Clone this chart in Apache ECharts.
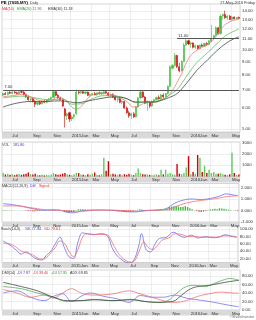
<!DOCTYPE html>
<html><head><meta charset="utf-8">
<script src="https://cdn.jsdelivr.net/npm/echarts@6/dist/echarts.min.js"></script>
<style>html,body{margin:0;padding:0;background:#fff}#c{width:256px;height:320px}</style>
</head><body><div id="c"></div>
<script>
const dates = ['2014-06-06','2014-06-13','2014-06-20','2014-06-27','2014-07-04','2014-07-11','2014-07-18','2014-07-25','2014-08-01','2014-08-08','2014-08-15','2014-08-22','2014-08-29','2014-09-05','2014-09-12','2014-09-19','2014-09-26','2014-10-03','2014-10-10','2014-10-17','2014-10-24','2014-10-31','2014-11-07','2014-11-14','2014-11-21','2014-11-28','2014-12-05','2014-12-12','2014-12-19','2014-12-26',
'2015-01-02','2015-01-09','2015-01-16','2015-01-23','2015-01-30','2015-02-06','2015-02-13','2015-02-20','2015-02-27','2015-03-06','2015-03-13','2015-03-20','2015-03-27','2015-04-03','2015-04-10','2015-04-17','2015-04-24','2015-05-01','2015-05-08','2015-05-15','2015-05-22','2015-05-29','2015-06-05','2015-06-12','2015-06-19','2015-06-26','2015-07-03','2015-07-10','2015-07-17','2015-07-24','2015-07-31','2015-08-07','2015-08-14','2015-08-21','2015-08-28','2015-09-04','2015-09-11','2015-09-18','2015-09-25','2015-10-02','2015-10-09','2015-10-16','2015-10-23','2015-10-30','2015-11-06','2015-11-13','2015-11-20','2015-11-27','2015-12-04','2015-12-11','2015-12-18','2015-12-25',
'2016-01-01','2016-01-08','2016-01-15','2016-01-22','2016-01-29','2016-02-05','2016-02-12','2016-02-19','2016-02-26','2016-03-04','2016-03-11','2016-03-18','2016-03-25','2016-04-01','2016-04-08','2016-04-15','2016-04-22','2016-04-29','2016-05-06','2016-05-13','2016-05-20','2016-05-27'];

const tickDates = ['2014-07-04','2014-09-05','2014-11-07','2015-01-02','2015-03-06','2015-05-01','2015-07-03','2015-09-04','2015-11-06','2016-01-01','2016-03-04','2016-05-06'];
const tickLabels = ['Jul','Sep','Nov','2015Jan','Mar','May','Jul','Sep','Nov','2016Jan','Mar','May'];

const opens  = [6.70,6.80,6.75,6.88,6.82,6.90,6.85,6.80,6.92,6.88, 6.74,6.60,6.45,6.50,6.35,6.20,6.30,6.22,6.35,6.30, 6.45,6.50,6.58,6.92,6.70,6.55,6.45,5.95,5.60,5.75, 5.45,5.55,5.70,6.90,6.85,6.92,6.82,6.90,6.70,6.75, 6.80,6.72,6.85,6.78,6.84,6.92,6.84,6.68,6.75,6.60, 6.45,6.50,6.30,6.35,6.00,5.75,5.60,5.70,5.55,6.05, 6.55,6.90,6.60,6.25,6.30,6.10,6.35,6.45,6.58,6.50, 6.72,6.62,6.80,7.25,8.50,8.70,9.50,8.60,8.30,9.00, 10.40,10.80,10.50,10.60,10.20,10.35,10.10,10.40,10.30,10.55, 10.45,10.75,11.05,11.30,12.10,11.50,13.40,13.60,13.20,13.40, 13.00,13.30,13.10,13.25];
const highs  = [6.85,6.90,6.92,6.95,6.95,6.98,6.92,6.95,7.00,6.95, 6.80,6.68,6.55,6.55,6.42,6.35,6.38,6.40,6.45,6.48, 6.55,6.62,7.02,6.95,6.78,6.62,6.50,6.00,5.75,5.80, 5.62,5.70,7.05,7.00,6.98,6.98,6.95,6.92,6.80,6.85, 6.90,6.88,6.92,6.90,6.98,6.95,6.90,6.80,6.82,6.70, 6.55,6.58,6.42,6.40,6.08,5.85,5.75,5.78,6.10,6.60, 7.00,6.95,6.65,6.40,6.35,6.40,6.50,6.62,6.70,6.78, 6.82,6.85,7.30,8.70,8.80,9.70,9.55,8.90,9.10,10.60, 11.00,10.90,10.70,10.65,10.45,10.40,10.45,10.55,10.60,10.70, 10.85,12.40,11.40,12.25,12.20,13.60,13.70,14.05,13.50,13.55, 13.45,13.35,13.30,13.35];
const lows   = [6.65,6.72,6.70,6.78,6.76,6.80,6.75,6.76,6.82,6.70, 6.55,6.40,6.30,6.30,6.05,6.12,6.15,6.18,6.25,6.25, 6.38,6.42,6.55,6.65,6.50,6.40,6.05,5.05,5.40,5.30, 5.35,5.45,5.65,6.75,6.78,6.78,6.76,6.65,6.60,6.68, 6.70,6.68,6.75,6.72,6.75,6.78,6.65,6.60,6.55,6.40, 6.30,6.25,6.20,5.95,5.70,5.50,5.45,5.50,5.52,6.00, 6.50,6.55,6.20,5.85,6.00,6.05,6.28,6.40,6.45,6.45, 6.55,6.58,6.75,7.20,8.40,8.60,8.50,8.20,8.25,8.95, 10.30,10.40,10.15,10.10,10.05,10.00,10.05,10.25,10.25,10.35, 10.40,10.65,10.90,11.20,11.40,11.40,13.00,13.10,13.00,12.95, 12.90,13.00,13.00,13.05];
const closes = [6.80,6.75,6.88,6.82,6.90,6.85,6.80,6.92,6.88,6.74, 6.60,6.45,6.50,6.35,6.20,6.30,6.22,6.35,6.30,6.45, 6.50,6.58,6.92,6.70,6.55,6.45,6.10,5.60,5.70,5.45, 5.55,5.65,6.90,6.85,6.92,6.82,6.90,6.70,6.75,6.80, 6.72,6.85,6.78,6.86,6.92,6.84,6.68,6.75,6.60,6.45, 6.50,6.30,6.35,6.00,5.75,5.60,5.70,5.55,6.05,6.55, 6.90,6.60,6.25,6.30,6.10,6.35,6.45,6.58,6.50,6.72, 6.62,6.80,7.25,8.60,8.70,9.50,8.60,8.30,9.00,10.40, 10.80,10.50,10.60,10.20,10.35,10.10,10.40,10.30,10.55,10.45, 10.80,11.05,11.30,12.10,11.50,13.40,13.60,13.20,13.40,13.00, 13.30,13.10,13.25,13.15];

const volumes = [300,180,250,150,200,120,180,220,150,200, 250,350,200,180,250,150,120,180,100,150, 120,180,300,200,150,180,250,300,200,150, 120,200,320,300,180,150,120,200,150,250, 350,150,120,200,1650,500,1350,200,250,180, 150,200,120,200,150,250,150,120,300,700, 300,200,180,200,150,120,150,200,120,600, 180,600,250,300,200,150,1100,250,200,300, 800,1800,200,400,250,1900,1650,400,950,300, 600,300,400,250,250,300,200,150,120,200, 2100,300,150,181.8];

// moving averages: [week index, price]
const ma10  = [[0,6.62],[4,6.68],[8,6.75],[12,6.62],[16,6.40],[20,6.35],[24,6.60],[27,6.45],[30,6.05],[32,5.92],[35,6.20],[38,6.65],[42,6.80],[46,6.78],[50,6.62],[54,6.35],[57,6.05],[60,6.15],[63,6.35],[66,6.30],[69,6.45],[72,6.65],[74,7.0],[76,7.5],[78,8.1],[80,8.9],[82,9.5],[84,9.85],[87,10.2],[90,10.55],[93,11.2],[96,12.2],[99,12.75],[103,13.05]];
const ema20 = [[0,6.55],[8,6.65],[14,6.55],[20,6.45],[26,6.48],[30,6.20],[34,6.22],[38,6.45],[44,6.68],[50,6.65],[55,6.45],[58,6.28],[62,6.32],[66,6.35],[70,6.48],[73,6.75],[76,7.05],[79,7.65],[82,8.35],[85,9.0],[88,9.5],[91,10.05],[94,10.65],[97,11.25],[100,11.65],[103,11.96]];
const ema30 = [[0,6.05],[4,6.2],[8,6.3],[12,6.35],[18,6.35],[24,6.38],[28,6.35],[32,6.28],[36,6.35],[42,6.5],[48,6.6],[53,6.55],[58,6.32],[62,6.32],[66,6.32],[70,6.45],[73,6.6],[76,6.8],[79,7.25],[82,7.8],[85,8.4],[88,8.9],[91,9.45],[94,10.0],[97,10.5],[100,10.9],[103,11.18]];

const macdHist = [0.05,0.04,0.03,0.02,0.02,0.01,0.0,0.01,0.01,-0.01, -0.03,-0.05,-0.05,-0.06,-0.07,-0.05,-0.04,-0.02,-0.01,0.01, 0.02,0.03,0.08,0.06,0.03,0.0,-0.03,-0.12,-0.14,-0.15, -0.12,-0.10,0.05,0.10,0.12,0.10,0.08,0.06,0.04,0.03, 0.02,0.02,0.01,0.01,0.01,0.0,-0.01,-0.01,-0.03,-0.05, -0.06,-0.07,-0.07,-0.09,-0.10,-0.10,-0.09,-0.07,-0.02,0.05, 0.10,0.08,0.05,0.04,0.03,0.04,0.05,0.06,0.06,0.07, 0.07,0.09,0.15,0.30,0.35,0.38,0.42,0.35,0.30,0.32, 0.38,0.30,0.20,0.10,0.02,-0.05,-0.08,-0.10,-0.08,-0.05, 0.02,0.10,0.12,0.15,0.12,0.20,0.18,0.15,0.12,0.08, 0.05,0.0,-0.02,-0.05];
const macdDiff   = [[0,0.6],[6,0.45],[12,0.2],[18,0.02],[24,0.05],[28,-0.15],[31,-0.2],[34,-0.05],[40,0.05],[48,0.02],[54,-0.1],[58,-0.12],[62,0.0],[68,0.05],[72,0.2],[75,0.6],[79,0.9],[83,1.0],[87,0.95],[91,1.05],[95,1.25],[98,1.45],[101,1.35],[103,1.3]];
const macdSignal = [[0,0.4],[6,0.4],[12,0.25],[18,0.08],[24,0.03],[28,-0.05],[32,-0.12],[36,-0.05],[42,0.03],[50,0.02],[56,-0.06],[60,-0.08],[64,0.0],[70,0.05],[74,0.2],[78,0.5],[82,0.72],[86,0.85],[90,0.95],[94,1.05],[98,1.2],[103,1.28]];

const stochK = [[0,68],[3,57],[6,42],[8,32],[10,38],[13,25],[15,18],[17,16],[19,28],[21,40],[23,60],[25,78],[27,50],[29,25],[31,20],[33,65],[35,90],[37,88],[40,85],[43,88],[46,82],[48,50],[50,30],[52,18],[54,10],[56,8],[58,20],[60,60],[61,88],[63,45],[65,38],[67,60],[69,75],[72,78],[75,92],[78,82],[80,78],[83,84],[86,76],[89,80],[92,77],[95,78],[98,85],[101,80],[103,77.94]];
const stochD = [[0,62],[3,60],[6,50],[8,40],[10,36],[13,30],[15,22],[17,18],[19,22],[21,35],[23,50],[25,68],[27,62],[29,40],[31,25],[33,45],[35,78],[37,88],[40,86],[43,86],[46,84],[48,65],[50,42],[52,25],[54,15],[56,10],[58,14],[60,40],[62,65],[64,50],[66,45],[68,55],[70,70],[73,76],[76,88],[79,85],[82,80],[85,80],[88,78],[91,79],[94,78],[97,82],[100,82],[103,79.61]];

const dmiBlue  = [[0,40],[6,45],[12,30],[18,22],[22,32],[26,38],[30,20],[34,32],[38,40],[44,32],[50,26],[55,18],[60,34],[65,30],[70,30],[75,35],[80,28],[85,24],[90,20],[95,15],[100,10],[103,7.97]];
const dmiRed   = [[0,48],[6,40],[12,30],[18,35],[22,28],[26,40],[30,50],[34,40],[40,35],[48,38],[55,45],[60,38],[65,30],[70,22],[75,18],[80,22],[85,32],[90,38],[95,42],[100,40],[103,39.4]];
const dmiGreen = [[0,55],[8,50],[15,40],[22,30],[28,20],[34,22],[40,25],[48,22],[56,25],[62,20],[68,18],[72,22],[76,40],[80,55],[84,58],[88,55],[92,62],[96,70],[99,74],[103,70]];
const dmiBlack = [[0,65],[8,55],[15,45],[22,30],[28,22],[34,22],[40,24],[48,22],[56,24],[62,20],[68,18],[74,20],[78,35],[82,50],[86,56],[90,58],[94,62],[98,66],[103,69.85]];

const priceTicks = [5,6,7,8,9,10,11,12,13,14];
const priceRange = [4.86,14.9];
const levels = [{price:7, from:0}, {price:11, from:76}];

// legend texts: [text, colour, left, bold]
const legendRows = [
  {top:0.5, items:[['PE (7095.MY)','#000',1,true],['Daily','#444',30,false]]},
  {top:6.5, items:[['MA(10)','#e03030',2],['EMA(20) 11.96','#2a9a2a',17],['EMA(30) 11.18','#333',48]]},
  {top:142.5, items:[['VOL','#333',2],['181.80','#3b3bd8',13]]},
  {top:183.5, items:[['MACD(12,26,9)','#333',2],['Diff','#3b3bd8',30],['Signal','#e03030',39]]},
  {top:227, items:[['Stoch(14,3)','#333',1],['%K 77.94','#3b3bd8',25],['%D 79.61','#e03030',44]]},
  {top:271, items:[['DMI(14)','#333',2],['-DI 7.97','#3b3bd8',17],['-DI 39.40','#e03030',33],['+DI 57.95','#2a9a2a',51],['ADX 69.85','#333',70]]}
];

const L = Math.log;
const FONT = 'Liberation Sans';
const GREEN = '#3fbf3f', RED = '#d40000';
const last = closes.length - 1;
const isUp = closes.map((c,i)=>c>=opens[i]);

const G = [
  {top:4, height:128}, {top:142, height:34.5}, {top:183.5, height:38.5}, {top:226, height:36.5}, {top:270, height:40}
].map(g=>Object.assign({left:2, right:16, show:true, borderColor:'#b8b8b8', borderWidth:0.6, backgroundColor:'#fff'}, g));

const showTick = (i,v)=>tickDates.indexOf(v)>=0;
function xa(i){
  return {type:'category', gridIndex:i, data:dates, boundaryGap:true,
    axisLine:{show:false}, axisTick:{show:false},
    axisLabel:{interval:showTick, formatter:v=>tickLabels[tickDates.indexOf(v)], fontSize:4.3, color:'#333', margin:1.8, align:'left', fontFamily:FONT, hideOverlap:false},
    splitLine:{show:true, interval:showTick, lineStyle:{color:'#e3e3e3', width:0.6}}};
}
function ya(i,min,max,ticks,fmt){
  return {type:'value', gridIndex:i, position:'right', min:min, max:max,
    axisLine:{show:false}, axisTick:{show:false, customValues:ticks},
    axisLabel:{customValues:ticks, formatter:fmt, fontSize:4.3, color:'#333', margin:2, fontFamily:FONT},
    splitLine:{show:true, lineStyle:{color:'#e3e3e3', width:0.6}}};
}
const lnPts = arr => arr.map(p=>[p[0], L(p[1])]);
function line(xi, data, color, w){
  return {type:'line', xAxisIndex:xi, yAxisIndex:xi, data:data, smooth:0.4, showSymbol:false, symbol:'none', silent:true,
    lineStyle:{color:color, width:w||0.8}, z:3};
}
const titles = [];
legendRows.forEach(r=>r.items.forEach(it=>titles.push({text:it[0], left:it[2], top:r.top, padding:0,
  textStyle:{fontSize:it[3]?4.3:3.7, fontWeight:it[3]?'bold':'normal', color:it[1], fontFamily:FONT}})));
titles.push({text:'27-May-2016 Friday', right:1, top:0.5, padding:0, textStyle:{fontSize:3.9, color:'#333', fontWeight:'normal', fontFamily:FONT}});
titles.push({text:'©ShareInvestor', right:2, top:315.5, padding:0, textStyle:{fontSize:3.5, color:'#666', fontWeight:'normal', fontFamily:FONT}});

const option = {
  animation:false,
  textStyle:{fontFamily:FONT},
  grid:G,
  graphic:[
    {type:'rect', shape:{x:2,y:132,width:238,height:6.5}, style:{fill:'#d9d9d9'}, z:-1},
    {type:'rect', shape:{x:2,y:176.5,width:238,height:6}, style:{fill:'#d9d9d9'}, z:-1},
    {type:'rect', shape:{x:2,y:222,width:238,height:5.5}, style:{fill:'#d9d9d9'}, z:-1},
    {type:'rect', shape:{x:2,y:262.5,width:238,height:5.5}, style:{fill:'#d9d9d9'}, z:-1},
    {type:'rect', shape:{x:2,y:310,width:238,height:5.5}, style:{fill:'#d9d9d9'}, z:-1}
  ],
  title:titles,
  xAxis:[0,1,2,3,4].map(xa),
  yAxis:[
    ya(0, L(priceRange[0]), L(priceRange[1]), priceTicks.map(L), v=>Math.exp(v).toFixed(2)),
    ya(1, 0, 3050, [1000,2000,3000], v=>String(Math.round(v))),
    ya(2, -1, 2.35, [-1,0,1,2], v=>v.toFixed(3)),
    ya(3, 9, 109, [20,40,60,80,100], v=>v.toFixed(2)),
    ya(4, 0, 94, [0,20,40,60,80], v=>v.toFixed(2))
  ],
  series:[
    {type:'candlestick', xAxisIndex:0, yAxisIndex:0, barWidth:1.6, silent:true,
     data: opens.map((o,i)=>[L(o), L(closes[i]), L(lows[i]), L(highs[i])]),
     itemStyle:{color:GREEN, color0:RED, borderColor:GREEN, borderColor0:RED, borderWidth:0.6},
     markLine:{symbol:'none', silent:true, animation:false,
       data:[
         [{coord:[levels[0].from, L(levels[0].price)], lineStyle:{color:'#555', width:1.2, type:'solid'}, label:{show:true, position:'insideStartTop', formatter:levels[0].price.toFixed(2), fontSize:4.3, color:'#333', distance:1}}, {coord:[last, L(levels[0].price)]}],
         [{coord:[levels[1].from, L(levels[1].price)], lineStyle:{color:'#555', width:1.2, type:'solid'}, label:{show:true, position:'insideStartTop', formatter:levels[1].price.toFixed(2), fontSize:4.3, color:'#333', distance:1}}, {coord:[last, L(levels[1].price)]}],
         {yAxis:L(closes[last]), lineStyle:{opacity:0}, label:{show:true, position:'end', formatter:closes[last].toFixed(2), fontSize:4.3, color:'#700', backgroundColor:'#f2a0a0', borderColor:'#c33', borderWidth:0.5, padding:[0.5,1], distance:1}}
       ]}},
    line(0, lnPts(ma10), '#f07a7a', 0.8),
    line(0, lnPts(ema20), '#5cbf5c', 0.8),
    line(0, lnPts(ema30), '#444', 0.8),
    {type:'bar', xAxisIndex:1, yAxisIndex:1, barWidth:1.4, silent:true,
     data: volumes.map((v,i)=>({value:v, itemStyle:{color:isUp[i]?'#5ccc5c':RED}})),
     markLine:{symbol:'none', silent:true, data:[{yAxis:volumes[last], lineStyle:{opacity:0}, label:{show:true, position:'end', formatter:volumes[last].toFixed(1), fontSize:4.3, color:'#333', backgroundColor:'#ffff33', padding:[0.5,1], distance:1}}]}},
    {type:'bar', xAxisIndex:2, yAxisIndex:2, barWidth:1.4, silent:true,
     data: macdHist.map(v=>({value:v, itemStyle:{color:v>=0?'#3fbf3f':RED}}))},
    line(2, macdDiff, '#6b6bf0', 0.8),
    line(2, macdSignal, '#f07070', 0.8),
    line(3, stochK, '#6b6bf0', 0.8),
    line(3, stochD, '#f07070', 0.8),
    line(4, dmiBlue, '#7070f0', 0.8),
    line(4, dmiRed, '#f07070', 0.8),
    line(4, dmiGreen, '#4faf4f', 0.8),
    line(4, dmiBlack, '#444', 0.8)
  ]
};
const chart = echarts.init(document.getElementById('c'));
chart.setOption(option);
</script></body></html>
